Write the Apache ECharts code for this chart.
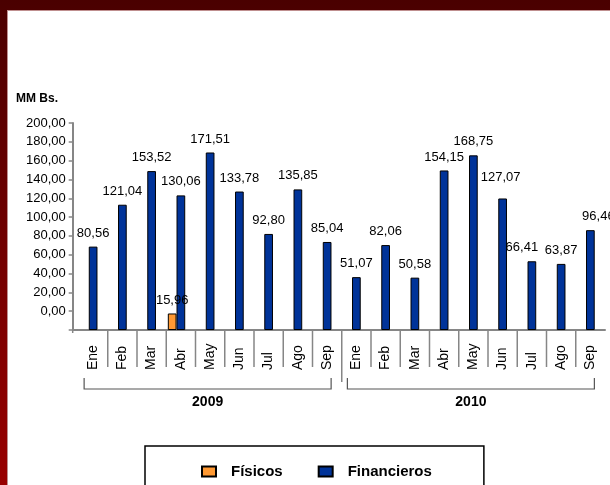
<!DOCTYPE html>
<html>
<head>
    <meta charset="utf-8">
    <title>MM Bs.</title>
    <style type="text/css">
        body{
            margin:0;
            padding:0;
            width:610px;
            height:485px;
            overflow:hidden;
            background:linear-gradient(#4a0000, #980000);
        }
        #frame{
            position:absolute;
            left:7px;
            top:10px;
            right:0;
            bottom:0;
            background-color:#ffffff;
            border-top:1px solid #bf8f8f;
            border-left:1px solid #bf8f8f;
        }
        #main{
            position:absolute;
            left:0;
            top:0;
            width:610px;
            height:485px;
        }
    </style>
</head>
<body>
<div id="frame"></div>
<div id="main"></div>
<script src="https://cdn.jsdelivr.net/npm/echarts@6/dist/echarts.min.js"></script>
<script type="text/javascript">
    var months = ['Ene', 'Feb', 'Mar', 'Abr', 'May', 'Jun', 'Jul', 'Ago', 'Sep'];
    var years = ['2009', '2010'];
    var fisicos = [null, null, null, 15.96, null, null, null, null, null,
                   null, null, null, null, null, null, null, null, null];
    var financieros = [80.56, 121.04, 153.52, 130.06, 171.51, 133.78, 92.80, 135.85, 85.04,
                       51.07, 82.06, 50.58, 154.15, 168.75, 127.07, 66.41, 63.87, 96.46];

    var font = 'Liberation Sans, Arial, sans-serif';
    var axisGrey = '#868686';
    // a few labels sit off their bars in the original
    var labelNudge = {14: [-2, -8], 15: [-10, 0], 17: [8, 0]};

    var categories = [];
    years.forEach(function(y) {
        months.forEach(function(m) { categories.push(m + ' ' + y); });
    });

    function fmt(v) {
        return Number(v).toFixed(2).replace('.', ',');
    }

    var finData = financieros.map(function(v, i) {
        if (labelNudge[i]) return {value: v, label: {offset: labelNudge[i]}};
        return v;
    });

    var barLabel = {
        show: true,
        position: 'top',
        distance: 7,
        color: '#000',
        fontSize: 13,
        fontFamily: font,
        formatter: function(p) { return fmt(p.value); }
    };

    var myChart = echarts.init(document.getElementById('main'));
    var option = {
        animation: false,
        title: {
            text: 'MM Bs.',
            left: 11,
            top: 88,
            textStyle: {fontSize: 12, fontWeight: 'bold', color: '#000', fontFamily: font}
        },
        legend: {
            data: ['Físicos', 'Financieros'],
            left: 145,
            top: 446,
            padding: [18, 52, 22, 56],
            itemGap: 35,
            itemWidth: 14,
            itemHeight: 10,
            icon: 'rect',
            borderColor: '#000',
            borderWidth: 1.5,
            borderRadius: 0,
            textStyle: {fontSize: 15, fontWeight: 'bold', color: '#000', fontFamily: font, padding: [0, 0, 0, 10]}
        },
        grid: {left: 78.5, right: 5, top: 123, bottom: 155, containLabel: false},
        xAxis: {
            type: 'category',
            data: categories,
            axisLine: {onZero: false, lineStyle: {color: axisGrey, width: 2}},
            axisTick: {show: false},
            axisLabel: {
                interval: 0,
                rotate: 90,
                align: 'left',
                verticalAlign: 'middle',
                margin: 40,
                color: '#000',
                fontSize: 14,
                fontFamily: font,
                formatter: function(v) { return v.split(' ')[0]; }
            }
        },
        yAxis: [{
            type: 'value',
            min: -20,
            max: 200,
            interval: 20,
            offset: 5.8,
            axisLine: {show: true, onZero: false, lineStyle: {color: axisGrey, width: 2}},
            axisTick: {show: true, length: 4, lineStyle: {color: axisGrey, width: 1.5}},
            splitLine: {show: false},
            axisLabel: {
                margin: 7,
                color: '#000',
                fontSize: 13,
                fontFamily: font,
                formatter: function(v) { return v < 0 ? '' : fmt(v); }
            }
        }, {
            type: 'value',
            min: 0,
            max: 200,
            show: false
        }],
        series: [{
            name: 'Físicos',
            type: 'bar',
            yAxisIndex: 1,
            data: fisicos,
            barWidth: 8.7,
            barGap: 0,
            itemStyle: {color: '#ff9933', borderColor: '#000', borderWidth: 1},
            label: barLabel
        }, {
            name: 'Financieros',
            type: 'bar',
            yAxisIndex: 1,
            data: finData,
            barWidth: 8.7,
            barGap: 0,
            itemStyle: {color: '#003399', borderColor: '#000', borderWidth: 1},
            label: barLabel
        }, {
            // empty slot so the blue bar sits on the category centre
            name: 'spacer',
            type: 'bar',
            yAxisIndex: 1,
            data: [],
            barWidth: 8.7,
            barGap: 0
        }]
    };
    myChart.setOption(option);

    // separators, year brackets and year labels under the axis
    var px = function(i) { return myChart.convertToPixel({xAxisIndex: 0}, i); };
    var yAxisX = 72.7, axisY = 330;
    var line = function(x1, y1, x2, y2, w) {
        return {type: 'line', shape: {x1: x1, y1: y1, x2: x2, y2: y2},
                style: {stroke: axisGrey, lineWidth: w || 1.5}, silent: true};
    };
    var g = [];
    g.push(line(yAxisX, axisY, px(0) - (px(1) - px(0)) / 2, axisY, 2));
    g.push(line(yAxisX, axisY, yAxisX, axisY + 3, 1.5));
    for (var i = 1; i < categories.length; i++) {
        var bx = (px(i - 1) + px(i)) / 2;
        var longTick = (i % months.length === 0);
        g.push(line(bx, axisY, bx, longTick ? 382 : 367, 1.5));
    }
    years.forEach(function(y, k) {
        var first = k * months.length, last = first + months.length - 1;
        var x1 = px(first) - 9, x2 = px(last) + 4;
        g.push({type: 'polyline', shape: {points: [[x1, 378], [x1, 389], [x2, 389], [x2, 378]]},
                style: {stroke: '#555', lineWidth: 1.2, fill: null}, silent: true});
        g.push({type: 'text', x: (x1 + x2) / 2, y: 402,
                style: {text: y, fill: '#000', font: 'bold 14px ' + font, align: 'center', verticalAlign: 'middle'}});
    });
    myChart.setOption({graphic: g});
</script>
</body>
</html>
